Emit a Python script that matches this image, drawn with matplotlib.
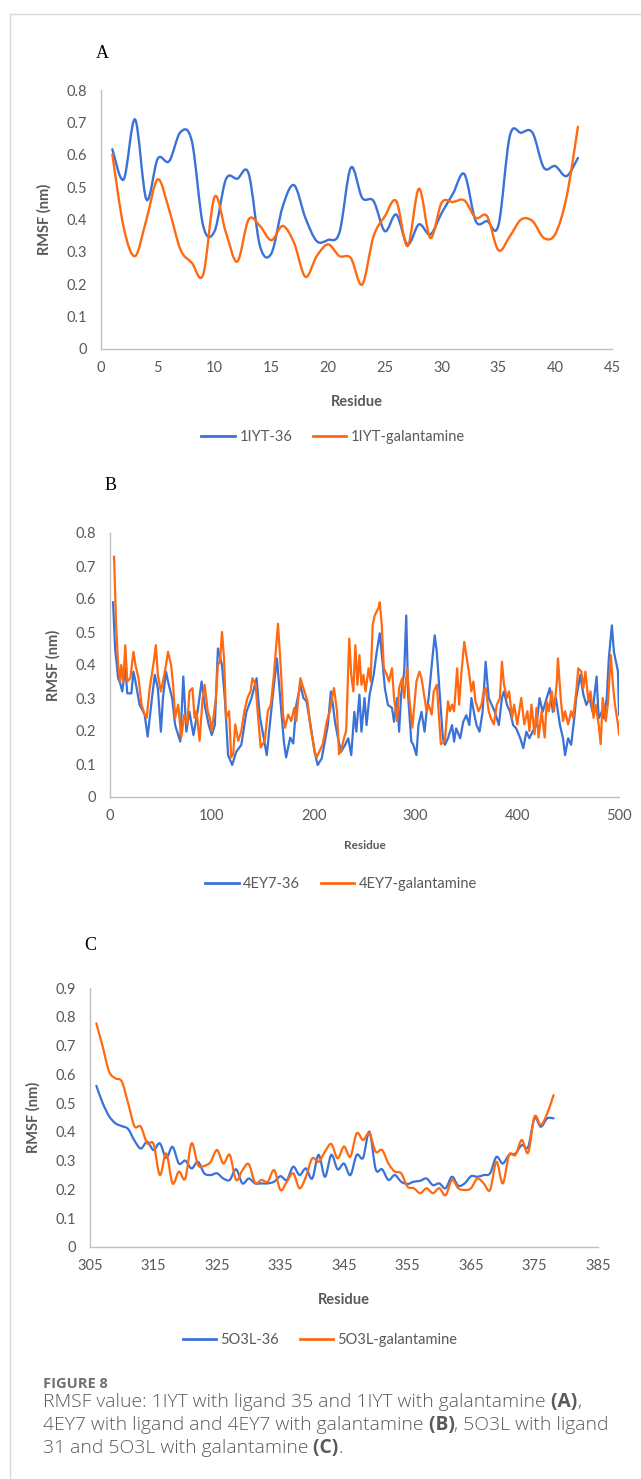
import matplotlib
matplotlib.use('Agg')
import matplotlib.pyplot as plt
from matplotlib.path import Path
from matplotlib.patches import PathPatch
from matplotlib.lines import Line2D
from matplotlib.ticker import FuncFormatter

# ---------------- data ----------------
# Panel A: 1IYT
res_a = list(range(1, 43))
a_36 = [0.617, 0.524, 0.709, 0.462, 0.588, 0.58, 0.67, 0.642, 0.38, 0.364,
        0.524, 0.526, 0.542, 0.318, 0.295, 0.44, 0.506, 0.405, 0.333, 0.337,
        0.36, 0.56, 0.467, 0.457, 0.364, 0.415, 0.323, 0.385, 0.354, 0.42,
        0.48, 0.54, 0.395, 0.395, 0.382, 0.658, 0.668, 0.668, 0.56, 0.565,
        0.534, 0.59]
a_gal = [0.601, 0.375, 0.287, 0.40, 0.524, 0.43, 0.307, 0.266, 0.23, 0.47,
         0.36, 0.27, 0.40, 0.38, 0.336, 0.38, 0.328, 0.223, 0.287, 0.323,
         0.287, 0.281, 0.199, 0.348, 0.41, 0.457, 0.318, 0.495, 0.343, 0.452,
         0.454, 0.459, 0.405, 0.41, 0.305, 0.348, 0.40, 0.395, 0.343, 0.355,
         0.47, 0.686]

# Panel B: 4EY7
res_b_36 = [3, 5, 8, 10, 12, 15, 17, 21, 23, 25, 29, 34, 37, 41, 44, 47, 50, 52, 55, 57,
            61, 64, 69, 72, 75, 78, 82, 86, 90, 93, 97, 100, 103, 106, 110, 113, 116, 120, 124, 129,
            134, 139, 144, 147, 151, 154, 157, 160, 164, 168, 171, 173, 177, 180, 183, 187, 190, 193, 197, 201,
            204, 208, 211, 214, 217, 219, 221, 224, 227, 231, 234, 237, 240, 242, 245, 247, 250, 252, 255, 259,
            262, 265, 268, 270, 273, 277, 279, 282, 284, 286, 289, 291, 293, 296, 298, 301, 303, 306, 309, 311,
            313, 317, 319, 321, 324, 327, 329, 332, 336, 338, 340, 344, 347, 350, 353, 355, 358, 360, 363, 366,
            369, 372, 375, 378, 382, 385, 387, 390, 393, 396, 399, 403, 406, 409, 412, 415, 419, 422, 425, 429,
            432, 435, 438, 442, 445, 447, 450, 453, 456, 458, 462, 465, 468, 471, 474, 478, 480, 483, 485, 488,
            490, 493, 495, 499, 500]
b_36 = [0.59, 0.45, 0.36, 0.345, 0.32, 0.39, 0.314, 0.314, 0.38, 0.35, 0.28, 0.25, 0.183, 0.294, 0.37, 0.33, 0.198, 0.30, 0.38, 0.35,
        0.30, 0.218, 0.168, 0.365, 0.198, 0.258, 0.188, 0.258, 0.35, 0.279, 0.218, 0.188, 0.218, 0.45, 0.40, 0.29, 0.127, 0.097, 0.137, 0.158,
        0.258, 0.30, 0.36, 0.248, 0.178, 0.127, 0.218, 0.31, 0.42, 0.27, 0.162, 0.12, 0.18, 0.162, 0.279, 0.34, 0.30, 0.29, 0.218, 0.137,
        0.097, 0.117, 0.168, 0.218, 0.32, 0.279, 0.228, 0.178, 0.137, 0.158, 0.178, 0.127, 0.258, 0.198, 0.31, 0.198, 0.30, 0.218, 0.31, 0.37,
        0.44, 0.496, 0.40, 0.33, 0.279, 0.27, 0.228, 0.30, 0.198, 0.31, 0.38, 0.55, 0.30, 0.168, 0.158, 0.127, 0.218, 0.258, 0.198, 0.258,
        0.30, 0.43, 0.49, 0.44, 0.31, 0.178, 0.158, 0.178, 0.218, 0.168, 0.208, 0.178, 0.228, 0.248, 0.218, 0.30, 0.248, 0.218, 0.198, 0.258,
        0.41, 0.30, 0.279, 0.258, 0.218, 0.30, 0.32, 0.279, 0.258, 0.218, 0.208, 0.178, 0.148, 0.198, 0.178, 0.198, 0.218, 0.30, 0.258, 0.30,
        0.33, 0.258, 0.30, 0.218, 0.178, 0.127, 0.178, 0.158, 0.238, 0.30, 0.37, 0.31, 0.279, 0.30, 0.258, 0.365, 0.238, 0.258, 0.238, 0.30,
        0.42, 0.52, 0.44, 0.38, 0.25]

res_b_gal = [4, 6, 8, 10, 11, 13, 15, 17, 20, 23, 25, 28, 31, 34, 36, 39, 43, 45, 47, 50,
             52, 55, 57, 60, 62, 64, 67, 70, 73, 76, 78, 81, 83, 85, 88, 91, 93, 96, 98, 100,
             104, 106, 108, 110, 112, 114, 117, 119, 121, 123, 126, 129, 132, 135, 138, 140, 143, 145, 148, 152,
             155, 158, 161, 165, 168, 170, 172, 175, 178, 181, 183, 185, 187, 191, 194, 197, 201, 203, 206, 209,
             213, 216, 218, 220, 223, 225, 227, 230, 232, 235, 237, 239, 241, 243, 245, 247, 249, 251, 254, 256,
             258, 260, 264, 265, 267, 269, 272, 274, 277, 279, 282, 284, 287, 289, 292, 294, 297, 299, 301, 304,
             306, 309, 311, 313, 316, 318, 321, 323, 325, 329, 332, 334, 336, 338, 341, 343, 345, 348, 350, 353,
             355, 357, 359, 362, 365, 367, 369, 372, 374, 377, 380, 383, 385, 387, 390, 392, 395, 397, 400, 402,
             404, 407, 410, 412, 414, 417, 419, 421, 424, 427, 429, 431, 434, 436, 439, 440, 443, 445, 447, 450,
             453, 455, 458, 460, 463, 465, 467, 470, 472, 475, 477, 480, 482, 484, 487, 489, 492, 494, 496, 499,
             500]
b_gal = [0.728, 0.52, 0.40, 0.35, 0.40, 0.35, 0.46, 0.35, 0.36, 0.44, 0.40, 0.36, 0.28, 0.25, 0.24, 0.33, 0.41, 0.46, 0.37, 0.32,
         0.35, 0.40, 0.44, 0.40, 0.34, 0.24, 0.28, 0.18, 0.25, 0.22, 0.32, 0.33, 0.24, 0.26, 0.17, 0.30, 0.34, 0.26, 0.24, 0.20,
         0.30, 0.40, 0.41, 0.50, 0.42, 0.24, 0.26, 0.12, 0.13, 0.22, 0.17, 0.20, 0.26, 0.30, 0.32, 0.36, 0.34, 0.26, 0.15, 0.17,
         0.26, 0.28, 0.37, 0.525, 0.38, 0.25, 0.21, 0.25, 0.23, 0.27, 0.23, 0.30, 0.36, 0.32, 0.29, 0.21, 0.14, 0.12, 0.14, 0.16,
         0.23, 0.26, 0.30, 0.33, 0.26, 0.13, 0.14, 0.18, 0.20, 0.48, 0.37, 0.32, 0.46, 0.34, 0.43, 0.34, 0.37, 0.32, 0.39, 0.35,
         0.52, 0.55, 0.575, 0.59, 0.52, 0.39, 0.37, 0.35, 0.39, 0.30, 0.23, 0.33, 0.36, 0.30, 0.39, 0.30, 0.21, 0.28, 0.35, 0.38,
         0.36, 0.30, 0.26, 0.28, 0.25, 0.32, 0.34, 0.25, 0.16, 0.17, 0.29, 0.26, 0.28, 0.26, 0.39, 0.28, 0.37, 0.47, 0.43, 0.37,
         0.32, 0.35, 0.29, 0.26, 0.28, 0.32, 0.33, 0.26, 0.24, 0.22, 0.28, 0.30, 0.41, 0.34, 0.30, 0.32, 0.24, 0.28, 0.22, 0.26,
         0.30, 0.22, 0.26, 0.20, 0.28, 0.19, 0.27, 0.18, 0.26, 0.18, 0.29, 0.26, 0.32, 0.26, 0.35, 0.42, 0.29, 0.23, 0.26, 0.22,
         0.26, 0.24, 0.32, 0.39, 0.38, 0.33, 0.38, 0.29, 0.32, 0.24, 0.28, 0.22, 0.16, 0.30, 0.23, 0.28, 0.43, 0.34, 0.28, 0.22,
         0.19]

# Panel C: 5O3L
res_c = list(range(306, 379))
c_36 = [0.56, 0.50, 0.455, 0.43, 0.42, 0.41, 0.37, 0.342, 0.366, 0.337,
        0.36, 0.31, 0.348, 0.29, 0.30, 0.273, 0.296, 0.256, 0.25, 0.256,
        0.238, 0.233, 0.27, 0.221, 0.238, 0.221, 0.221, 0.221, 0.227, 0.246,
        0.233, 0.279, 0.25, 0.273, 0.238, 0.32, 0.244, 0.32, 0.27, 0.29,
        0.25, 0.32, 0.31, 0.40, 0.27, 0.27, 0.233, 0.25, 0.227, 0.219,
        0.227, 0.23, 0.238, 0.215, 0.221, 0.204, 0.244, 0.213, 0.221, 0.246,
        0.244, 0.25, 0.256, 0.313, 0.29, 0.32, 0.325, 0.354, 0.348, 0.447,
        0.418, 0.447, 0.447]
c_gal = [0.777, 0.696, 0.61, 0.586, 0.575, 0.50, 0.42, 0.418, 0.36, 0.358,
         0.25, 0.325, 0.221, 0.262, 0.238, 0.36, 0.285, 0.282, 0.296, 0.337,
         0.29, 0.32, 0.233, 0.267, 0.288, 0.223, 0.233, 0.227, 0.267, 0.198,
         0.227, 0.256, 0.204, 0.244, 0.308, 0.296, 0.331, 0.358, 0.308, 0.349,
         0.314, 0.395, 0.372, 0.395, 0.331, 0.337, 0.29, 0.262, 0.256, 0.21,
         0.204, 0.187, 0.204, 0.187, 0.204, 0.18, 0.233, 0.204, 0.198, 0.204,
         0.238, 0.221, 0.198, 0.296, 0.221, 0.32, 0.32, 0.372, 0.328, 0.453,
         0.424, 0.464, 0.528]

# ---------------- style ----------------
BLUE = '#3a72d8'
ORANGE = '#ff6a10'
GREY = '#595959'
FONT = 'Lato'
CAPFONT = 'Open Sans'
plt.rcParams['font.family'] = [FONT, 'DejaVu Sans']

W, H = 641, 1479
fig = plt.figure(figsize=(W / 100, H / 100), dpi=100)


def fx(px):
    return px / W


def fy(py):
    return 1 - py / H


def smooth_path(x, y, t=1 / 6):
    # Excel-like "smoothed line": cubic bezier through the points
    verts = [(x[0], y[0])]
    codes = [Path.MOVETO]
    n = len(x)
    for i in range(n - 1):
        p0 = i - 1 if i > 0 else i
        p3 = i + 2 if i + 2 < n else i + 1
        c1 = (x[i] + (x[i + 1] - x[p0]) * t, y[i] + (y[i + 1] - y[p0]) * t)
        c2 = (x[i + 1] - (x[p3] - x[i]) * t, y[i + 1] - (y[p3] - y[i]) * t)
        verts += [c1, c2, (x[i + 1], y[i + 1])]
        codes += [Path.CURVE4] * 3
    return Path(verts, codes)


def make_axes(left, right, top, bottom):
    ax = fig.add_axes([fx(left), fy(bottom), fx(right - left), (bottom - top) / H])
    for s in ['top', 'right']:
        ax.spines[s].set_visible(False)
    for s in ['left', 'bottom']:
        ax.spines[s].set_color('#bfbfbf')
        ax.spines[s].set_linewidth(1.0)
    ax.tick_params(length=0, colors=GREY, labelsize=10.5)
    ax.tick_params(axis='x', pad=9)
    ax.tick_params(axis='y', pad=10)
    ax.yaxis.set_major_formatter(FuncFormatter(lambda v, p: f'{v:g}'))
    ax.xaxis.set_major_formatter(FuncFormatter(lambda v, p: f'{v:g}'))
    return ax


def add_legend(ax, labels, cx, cy, lw):
    handles = [Line2D([], [], color=BLUE, lw=lw), Line2D([], [], color=ORANGE, lw=lw)]
    ax.legend(handles, labels, loc='center', bbox_to_anchor=(fx(cx), fy(cy)),
              bbox_transform=fig.transFigure, ncol=2, frameon=False, fontsize=10.5,
              handlelength=2.3, handletextpad=0.3, columnspacing=1.4,
              labelcolor=GREY)


# page border
fig.add_artist(Line2D([fx(10), fx(10)], [0, fy(14)], color='#d9d9d9', lw=1))
fig.add_artist(Line2D([fx(10), 1], [fy(14), fy(14)], color='#d9d9d9', lw=1))

# ---- Panel A ----
ax = make_axes(101, 612, 90, 349)
ax.set_xlim(0, 45)
ax.set_ylim(0, 0.8)
ax.set_xticks(range(0, 46, 5))
ax.set_yticks([i / 10 for i in range(9)])
ax.add_patch(PathPatch(smooth_path(res_a, a_36), fill=False, edgecolor=BLUE, lw=1.7, capstyle='round'))
ax.add_patch(PathPatch(smooth_path(res_a, a_gal), fill=False, edgecolor=ORANGE, lw=1.7, capstyle='round'))
ax.set_ylabel('RMSF (nm)', fontsize=10.5, fontweight='bold', color=GREY)
ax.yaxis.set_label_coords((52 - 101) / (612 - 101), 0.5)
ax.set_xlabel('Residue', fontsize=10.5, fontweight='bold', color=GREY)
ax.xaxis.set_label_coords(0.5, -(395 - 349) / (349 - 90))
add_legend(ax, ['1IYT-36', '1IYT-galantamine'], 333, 437, 2.0)
fig.text(fx(96), fy(53), 'A', fontsize=13, family='Liberation Serif', va='center', ha='left')

# ---- Panel B ----
ax = make_axes(110, 619, 533, 797)
ax.set_xlim(0, 500)
ax.set_ylim(0, 0.8)
ax.set_xticks(range(0, 501, 100))
ax.set_yticks([i / 10 for i in range(9)])
ax.plot(res_b_36, b_36, color=BLUE, lw=1.6)
ax.plot(res_b_gal, b_gal, color=ORANGE, lw=1.6)
ax.set_ylabel('RMSF (nm)', fontsize=10.5, fontweight='bold', color=GREY)
ax.yaxis.set_label_coords((61 - 110) / (619 - 110), 0.5)
ax.set_xlabel('Residue', fontsize=8.5, fontweight='bold', color=GREY)
ax.xaxis.set_label_coords(0.5, -(840 - 797) / (797 - 533))
add_legend(ax, ['4EY7-36', '4EY7-galantamine'], 341, 884, 2.0)
fig.text(fx(105), fy(485), 'B', fontsize=13, family='Liberation Serif', va='center', ha='left')

# ---- Panel C ----
ax = make_axes(90, 598, 988, 1247)
ax.set_xlim(305, 385)
ax.set_ylim(0, 0.9)
ax.set_xticks(range(305, 386, 10))
ax.set_yticks([i / 10 for i in range(10)])
ax.add_patch(PathPatch(smooth_path(res_c, c_36), fill=False, edgecolor=BLUE, lw=1.6, capstyle='round'))
ax.add_patch(PathPatch(smooth_path(res_c, c_gal), fill=False, edgecolor=ORANGE, lw=1.6, capstyle='round'))
ax.set_ylabel('RMSF (nm)', fontsize=10.5, fontweight='bold', color=GREY)
ax.yaxis.set_label_coords((41 - 90) / (598 - 90), 0.5)
ax.set_xlabel('Residue', fontsize=10.5, fontweight='bold', color=GREY)
ax.xaxis.set_label_coords(0.5, -(1293 - 1247) / (1247 - 988))
add_legend(ax, ['5O3L-36', '5O3L-galantamine'], 320, 1340, 2.0)
fig.text(fx(84), fy(945), 'C', fontsize=13, family='Liberation Serif', va='center', ha='left')

# ---- caption ----
cap = fig.add_axes([0, 0, 1, 1])
cap.axis('off')
CAPC = '#5a5a5a'
cap.text(fx(43), fy(1384), 'FIGURE 8', fontsize=10.5, fontweight='bold', color='#707070',
         family=CAPFONT, va='center', transform=fig.transFigure)

lines = [
    [('RMSF value: 1IYT with ligand 35 and 1IYT with galantamine', 'light'), (' (A)', 'bold'), (',', 'light')],
    [('4EY7 with ligand and 4EY7 with galantamine', 'light'), (' (B)', 'bold'), (', 5O3L with ligand', 'light')],
    [('31 and 5O3L with galantamine', 'light'), (' (C)', 'bold'), ('.', 'light')],
]
line_y = [1402, 1425, 1448]
for parts, py in zip(lines, line_y):
    prev = None
    for txt, wt in parts:
        if prev is None:
            prev = cap.text(fx(43), fy(py), txt, fontsize=13.9, fontweight=wt, color=CAPC,
                            family=CAPFONT, va='center', transform=fig.transFigure)
        else:
            prev = cap.annotate(txt, xy=(1, 0.5), xycoords=prev, va='center', ha='left',
                                fontsize=13.9, fontweight=wt, color=CAPC, family=CAPFONT)

fig.savefig('out.png', dpi=100)
